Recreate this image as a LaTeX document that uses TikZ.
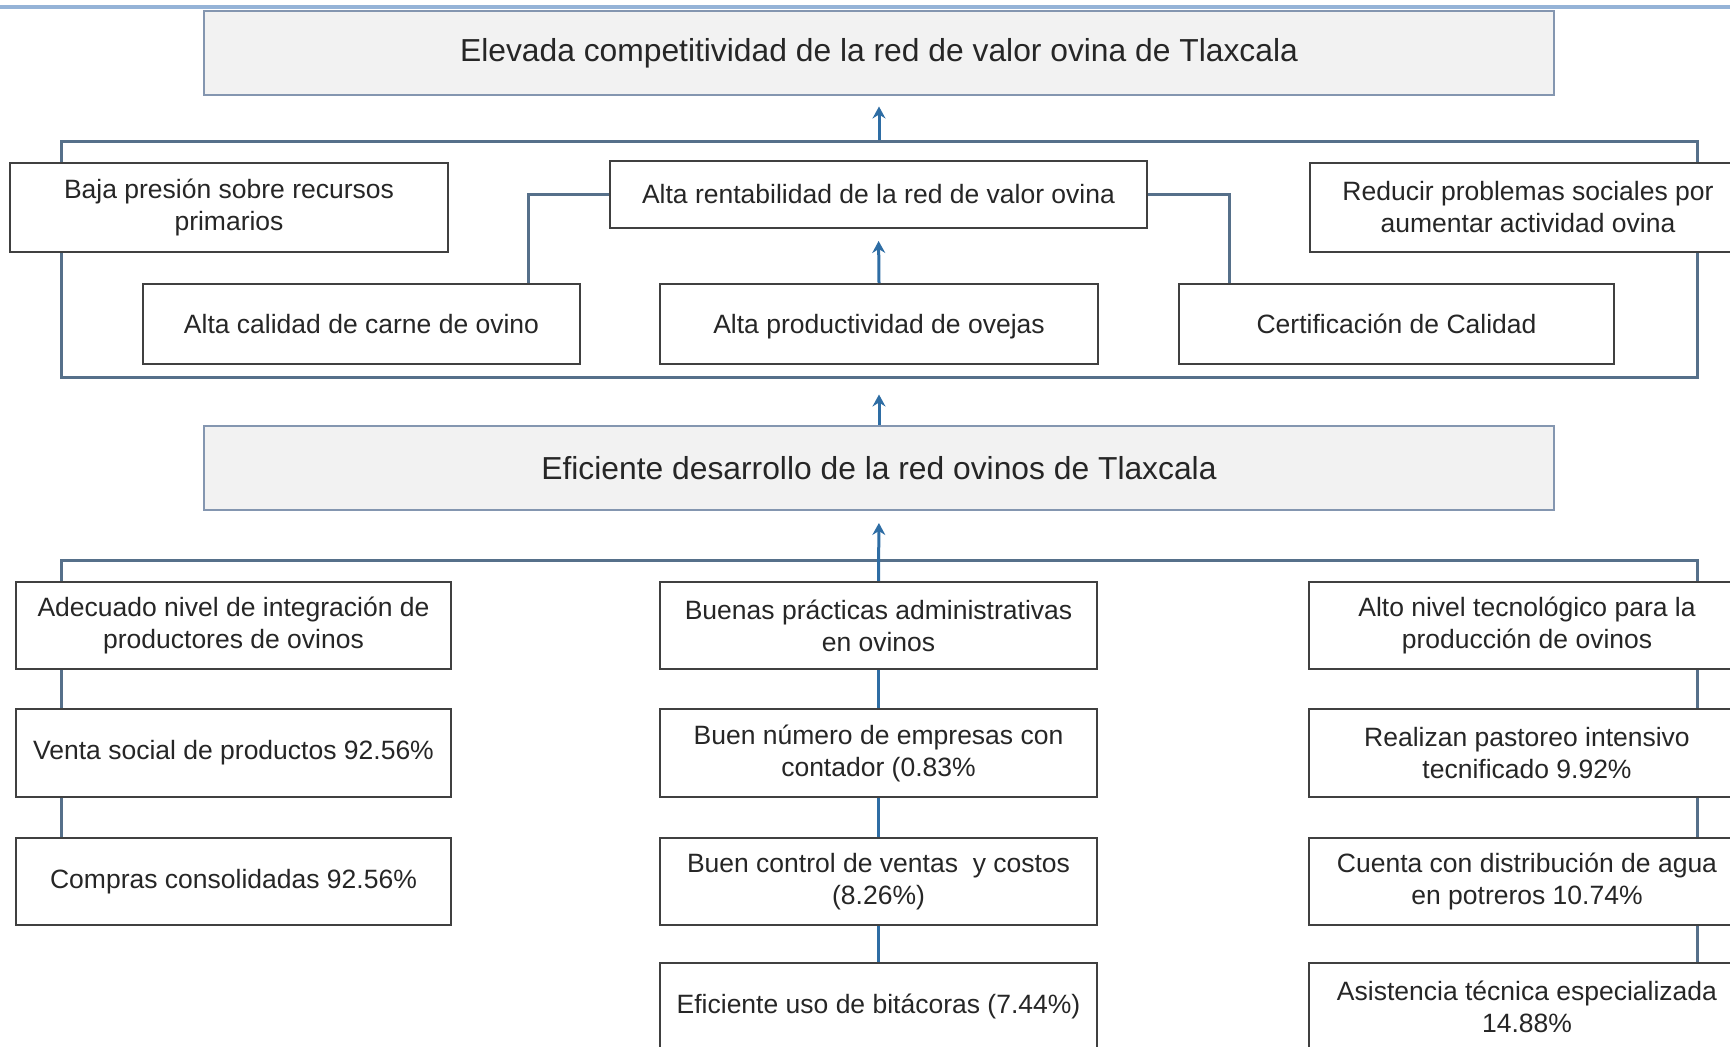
\documentclass[tikz,border=0pt]{standalone}
\usepackage{fontspec}
\setmainfont{Liberation Sans}
\usetikzlibrary{arrows.meta}
\definecolor{topline}{HTML}{95B3D7}
\definecolor{framec}{HTML}{56708A}
\definecolor{arrowc}{HTML}{2E6DA4}
\definecolor{boxborder}{HTML}{404040}
\definecolor{titlefill}{HTML}{F2F2F2}
\definecolor{titleborder}{HTML}{8496B0}
\definecolor{textc}{HTML}{262626}
\begin{document}
\begin{tikzpicture}[x=0.5pt,y=-0.5pt,
  box/.style={draw=boxborder,line width=1pt,fill=white,align=center,inner sep=0pt,
    text=textc,font=\fontsize{13.25pt}{16pt}\selectfont},
  titlebox/.style={draw=titleborder,line width=1pt,fill=titlefill,inner sep=0pt,
    text=textc,font=\fontsize{15.9pt}{18pt}\selectfont,
    minimum width=675pt,minimum height=42pt},
  colL/.style={box,minimum width=217.5pt},
  colM/.style={box,minimum width=218.5pt},
  colR/.style={box,minimum width=218pt},
  rowbox/.style={minimum height=43.5pt},
  link/.style={draw=framec,line width=1.5pt},
  blink/.style={draw=arrowc,line width=1.5pt},
  up/.style={draw=arrowc,line width=1.5pt,-{Stealth[length=6pt,width=6.5pt,inset=2pt]}}]
\useasboundingbox (0,0) rectangle (1730,1047);
% top decorative line
\draw[topline,line width=2pt] (0,7) -- (1730,7);

% upper frame (connector bracket)
\node[link,minimum width=818pt,minimum height=118pt,inner sep=0pt] (frame1) at (879,260) {};

% titles
\node[titlebox] (T1) at (879,53.5) {Elevada competitividad de la red de valor ovina de Tlaxcala};
\node[titlebox] (T2) at (879,468) {Eficiente desarrollo de la red ovinos de Tlaxcala};

% upper boxes
\node[box,minimum width=219pt,minimum height=44.5pt] (B1) at (229,207.5) {Baja presión sobre recursos\\primarios};
\node[box,minimum width=268.5pt,minimum height=33.5pt] (B2) at (878.5,194.5) {Alta rentabilidad de la red de valor ovina};
\node[box,minimum width=218pt,minimum height=44.5pt] (B3) at (1528,207.5) {Reducir problemas sociales por\\aumentar actividad ovina};
\node[box,minimum width=218.5pt,minimum height=40pt] (B4) at (361.5,324) {Alta calidad de carne de ovino};
\node[box,minimum width=219pt,minimum height=40pt,text depth=0pt] (B5) at (879,324) {Alta productividad de ovejas};
\node[box,minimum width=217.5pt,minimum height=40pt] (B6) at (1396.5,324) {Certificación de Calidad};

% lower columns
\node[colL,rowbox] (L1) at (233.5,625.5) {Adecuado nivel de integración de\\productores de ovinos};
\node[colL,rowbox] (L2) at (233.5,753) {Venta social de productos 92.56\%};
\node[colL,rowbox] (L3) at (233.5,881.5) {Compras consolidadas 92.56\%};

\node[colM,rowbox] (M1) at (878.5,625.5) {Buenas prácticas administrativas\\en ovinos};
\node[colM,rowbox] (M2) at (878.5,753) {Buen número de empresas con\\contador (0.83\%};
\node[colM,rowbox] (M3) at (878.5,881.5) {Buen control de ventas \ y costos\\(8.26\%)};
\node[colM,rowbox] (M4) at (878.5,1006.5) {Eficiente uso de bitácoras (7.44\%)};

\node[colR,rowbox] (R1) at (1527,625.5) {Alto nivel tecnológico para la\\producción de ovinos};
\node[colR,rowbox] (R2) at (1527,753) {Realizan pastoreo intensivo\\tecnificado 9.92\%};
\node[colR,rowbox] (R3) at (1527,881.5) {Cuenta con distribución de agua\\en potreros 10.74\%};
\node[colR,rowbox] (R4) at (1527,1006.5) {Asistencia técnica especializada\\14.88\%};

% upper connectors
\draw[link] ([xshift=-26.5pt]B4.north east) |- (B2.west);
\draw[link] (B2.east) -| ([xshift=25.5pt]B6.north west);
\draw[up,shorten >=6pt] (B5.north) -- (B2.south);
\draw[up,shorten >=5pt] (frame1.north) -- (T1.south);
\draw[up,shorten >=7.5pt] (T2.north) -- (frame1.south);

% lower bracket
\coordinate (lx) at (61,561);
\coordinate (rx) at (1697,561);
\draw[link] (L1.north -| lx) -- (lx) -- (rx) -- (R1.north -| rx);
\draw[up,shorten >=6pt] (M1.north) -- (T2.south);

% column connectors
\draw[link] (L1.south -| lx) -- (L2.north -| lx);
\draw[link] (L2.south -| lx) -- (L3.north -| lx);
\draw[blink] (M1) -- (M2);
\draw[blink] (M2) -- (M3);
\draw[blink] (M3) -- (M4);
\draw[link] (R1.south -| rx) -- (R2.north -| rx);
\draw[link] (R2.south -| rx) -- (R3.north -| rx);
\draw[link] (R3.south -| rx) -- (R4.north -| rx);
\end{tikzpicture}
\end{document}
